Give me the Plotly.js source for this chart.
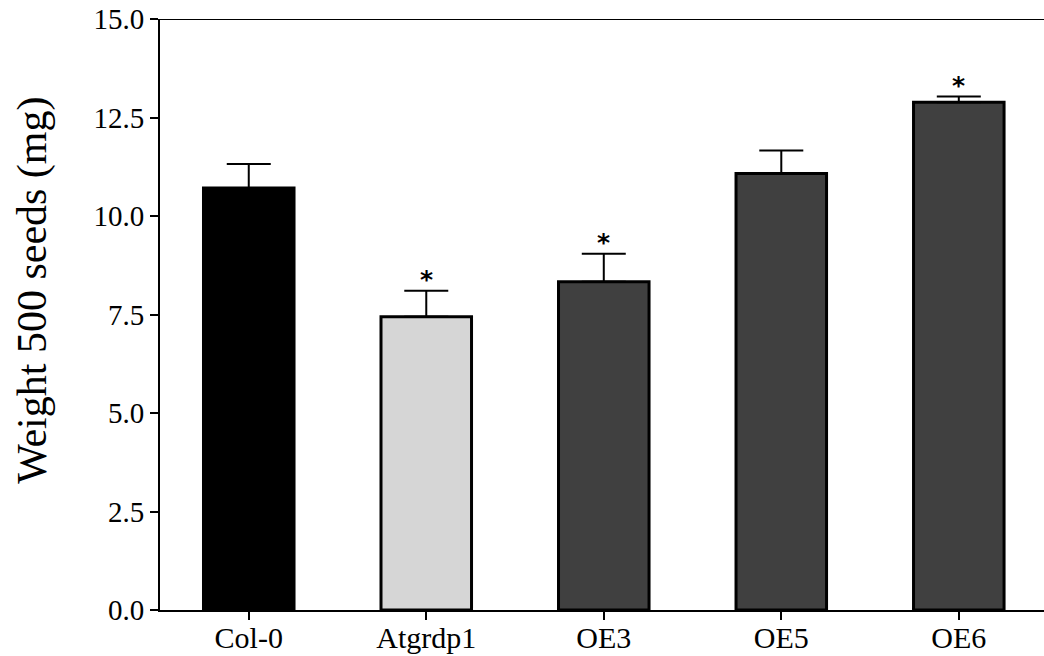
<!DOCTYPE html>
<html>
<head>
<meta charset="utf-8">
<script src="https://cdn.plot.ly/plotly-3.0.1.min.js"></script>
<style>html,body{margin:0;padding:0;background:#fff;}#chart{width:1044px;height:656px;}</style>
</head>
<body>
<div id="chart"></div>
<script>
var categories = ["Col-0", "Atgrdp1", "OE3", "OE5", "OE6"];
var weights = [10.71, 7.44, 8.33, 11.08, 12.89];
var errors = [0.61, 0.66, 0.71, 0.58, 0.14];
var significant = [false, true, true, false, true];
var barColors = ["#000000", "#d6d6d6", "#404040", "#404040", "#404040"];
var yTicks = [0, 2.5, 5, 7.5, 10, 12.5, 15];
var yTickLabels = ["0.0", "2.5", "5.0", "7.5", "10.0", "12.5", "15.0"];
var yTitle = "Weight 500 seeds (mg)";

var trace = {
  type: "bar",
  x: categories,
  y: weights,
  marker: {color: barColors, line: {color: "#000000", width: 3}},
  error_y: {type: "data", array: errors, symmetric: false, arrayminus: errors.map(function(){return 0;}), color: "#000000", thickness: 2, width: 22},
  hoverinfo: "x+y"
};

var annotations = [];
categories.forEach(function(c, i) {
  if (significant[i]) {
    annotations.push({
      x: c, y: weights[i] + errors[i], xref: "x", yref: "y",
      text: "<b>*</b>", showarrow: false, yanchor: "middle", yshift: 11,
      font: {family: "DejaVu Sans, sans-serif", size: 25, color: "#000000"}
    });
  }
});
annotations.push({
  text: yTitle, xref: "paper", yref: "paper",
  x: -127 / 884, y: 0.54, xanchor: "center", yanchor: "middle",
  textangle: -90, showarrow: false,
  font: {size: 42, family: "Liberation Serif, Times New Roman, serif", color: "#000000"}
});

var layout = {
  width: 1044, height: 656,
  margin: {l: 160, r: 0, t: 19, b: 46},
  paper_bgcolor: "#ffffff", plot_bgcolor: "#ffffff",
  showlegend: false,
  bargap: 0.49,
  font: {family: "Liberation Serif, Times New Roman, serif", color: "#000000"},
  xaxis: {
    type: "category",
    range: [-0.5, 4.48],
    showline: true, linecolor: "#000000", linewidth: 2,
    ticks: "outside", ticklen: 8, tickwidth: 2, tickcolor: "#000000",
    ticklabelstandoff: -8,
    showgrid: false, zeroline: false,
    tickfont: {size: 30, family: "Liberation Serif, Times New Roman, serif"},
    fixedrange: true
  },
  yaxis: {
    range: [0, 15],
    tickvals: yTicks, ticktext: yTickLabels,
    showline: true, linecolor: "#000000", linewidth: 2,
    ticks: "outside", ticklen: 8, tickwidth: 2, tickcolor: "#000000",
    showgrid: false, zeroline: false,
    tickfont: {size: 29, family: "Liberation Serif, Times New Roman, serif"},
    fixedrange: true
  },
  shapes: [{
    type: "line", xref: "paper", yref: "y", x0: 0, x1: 1, y0: 15, y1: 15,
    line: {color: "#000000", width: 2}
  }],
  annotations: annotations
};

Plotly.newPlot("chart", [trace], layout, {displayModeBar: false, staticPlot: true});
</script>
</body>
</html>
